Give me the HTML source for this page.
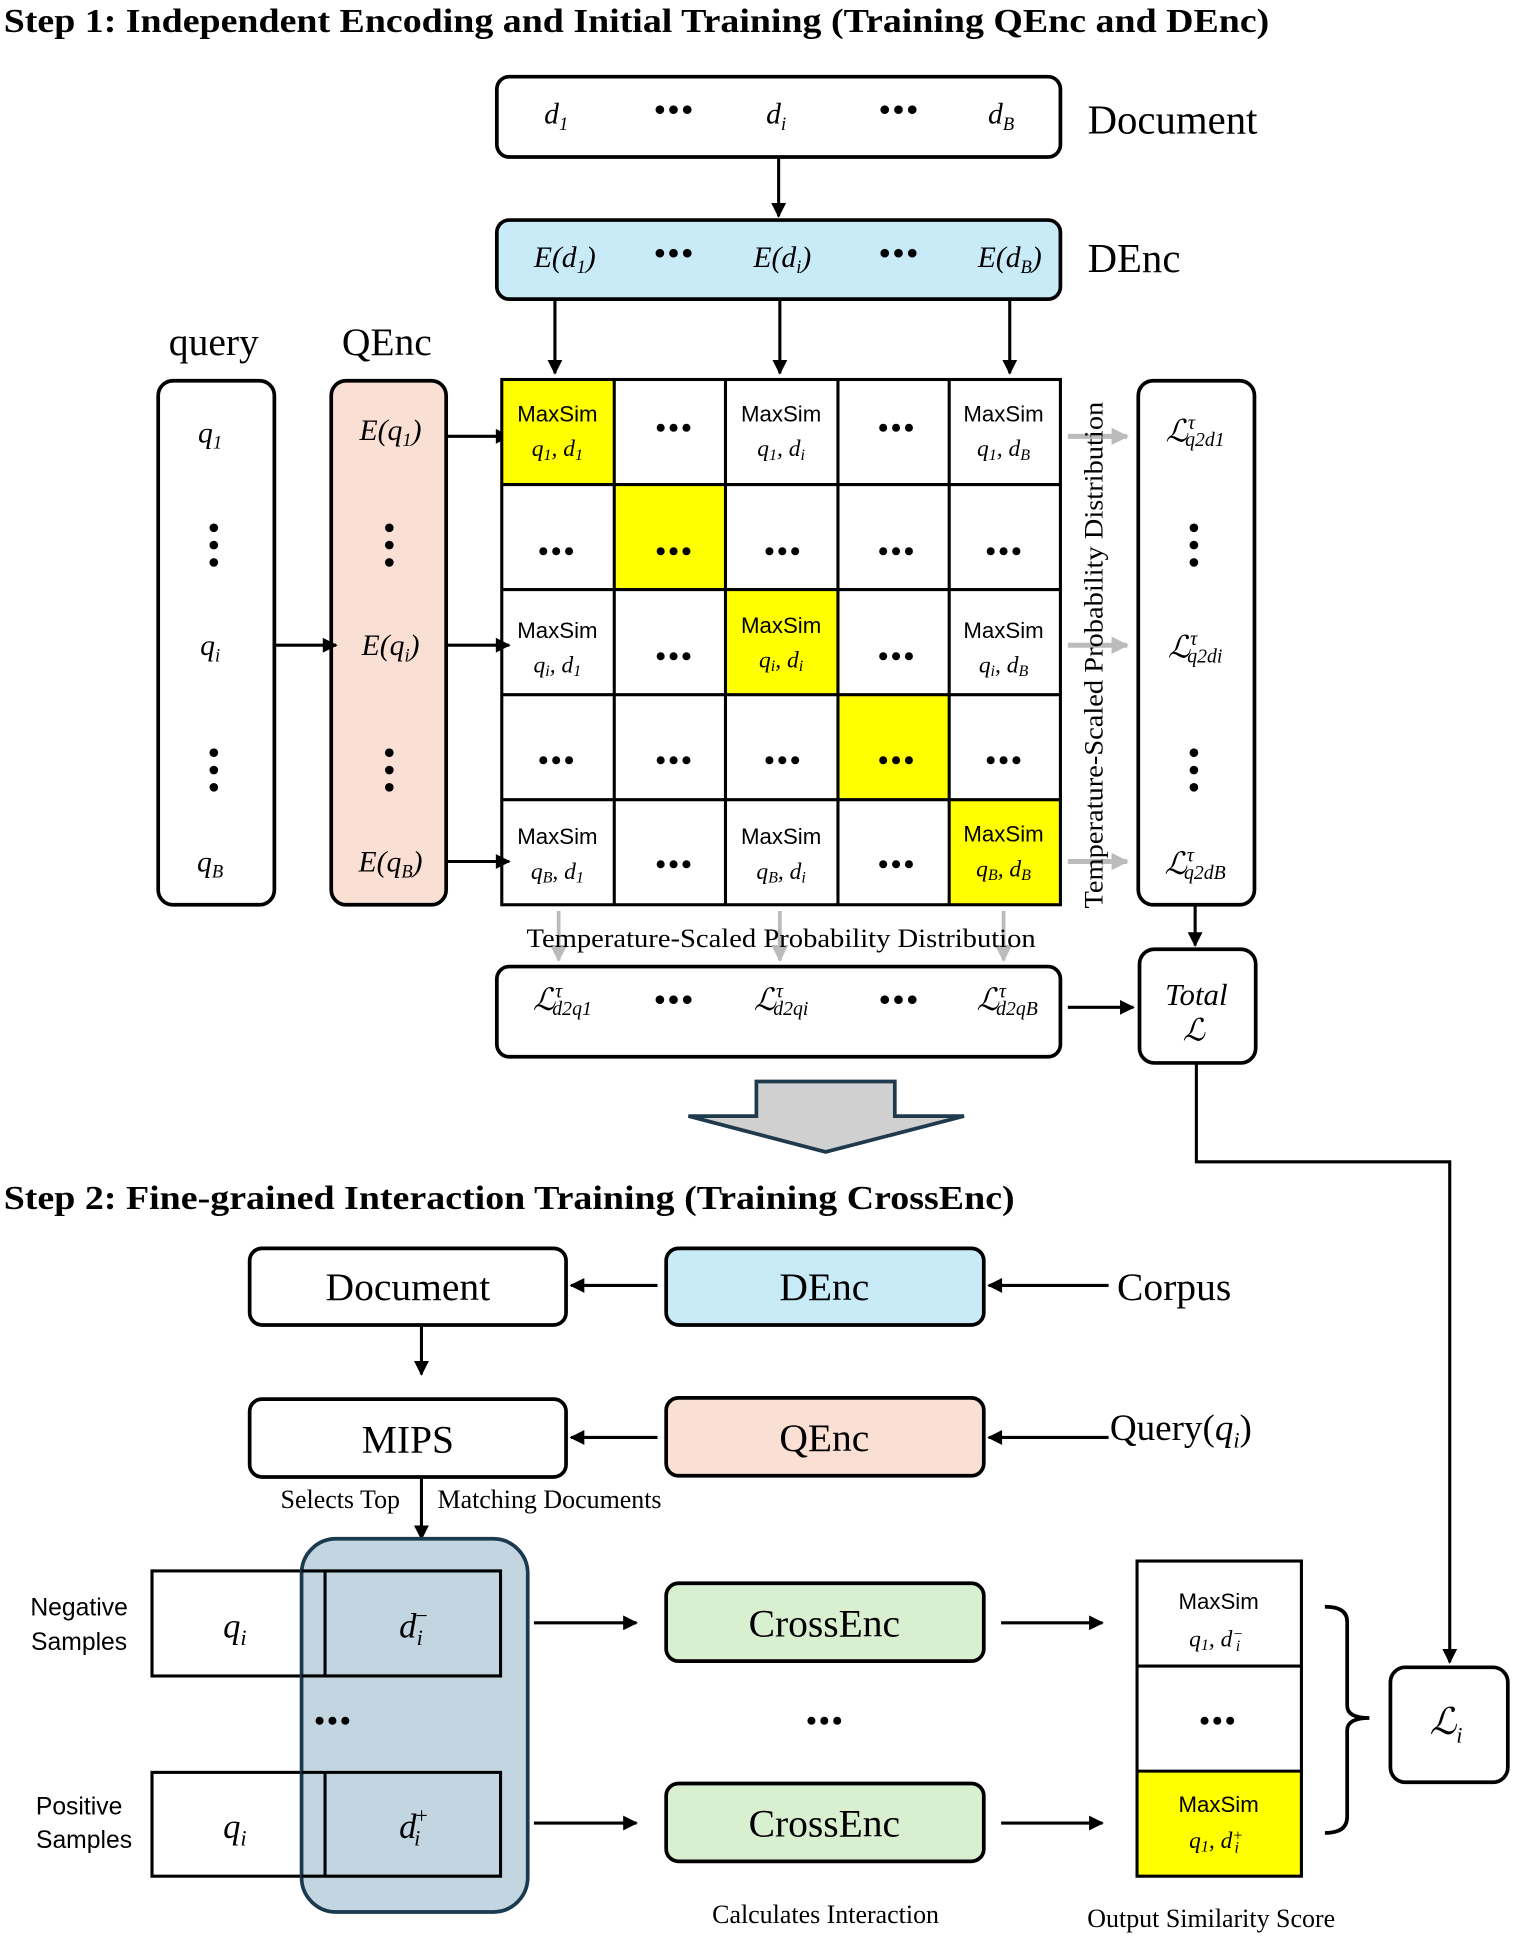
<!DOCTYPE html>
<html><head><meta charset="utf-8"><style>
html,body{margin:0;padding:0;background:#fff}
svg{display:block}
.s{font-family:"Liberation Serif",serif}
.a{font-family:"Liberation Sans",sans-serif}
.i{font-family:"Liberation Serif",serif;font-style:italic}
</style></head><body>
<svg width="1514" height="1943" viewBox="0 0 1225 1572" xmlns="http://www.w3.org/2000/svg">
<defs>
<marker id="bk" viewBox="0 0 10 10" refX="9" refY="5" markerWidth="14" markerHeight="12" orient="auto" markerUnits="userSpaceOnUse"><path d="M0,0 L10,5 L0,10 Z" fill="#000"/></marker>
<marker id="gr" viewBox="0 0 10 10" refX="9" refY="5" markerWidth="14" markerHeight="14" orient="auto" markerUnits="userSpaceOnUse"><path d="M0,0 L10,5 L0,10 Z" fill="#bbb"/></marker>
</defs>
<text x="3" y="26" class="s" font-weight="bold" font-size="27" textLength="1024" lengthAdjust="spacingAndGlyphs">Step 1: Independent Encoding and Initial Training (Training QEnc and DEnc)</text>

<rect x="402" y="62" width="456" height="65" rx="10" fill="#fff" stroke="#000" stroke-width="3"/>
<g class="i" font-size="24" text-anchor="middle">
<text x="450" y="100">d<tspan font-size="15" dy="5">1</tspan></text>
<text x="628" y="100">d<tspan font-size="15" dy="5">i</tspan></text>
<text x="810" y="100">d<tspan font-size="15" dy="5">B</tspan></text>
</g>
<g font-size="26" font-weight="bold" text-anchor="middle" class="s" letter-spacing="2"><text x="546" y="97">•••</text><text x="728" y="97">•••</text></g>
<text x="880" y="108" class="s" font-size="33">Document</text>
<line x1="630" y1="127" x2="630" y2="175" stroke="#000" stroke-width="2.5" marker-end="url(#bk)"/>

<rect x="402" y="178" width="456" height="64" rx="10" fill="#c9ebf8" stroke="#000" stroke-width="3"/>
<g class="i" font-size="24" text-anchor="middle">
<text x="457" y="216">E(d<tspan font-size="15" dy="5">1</tspan><tspan dy="-5">)</tspan></text>
<text x="633" y="216">E(d<tspan font-size="15" dy="5">i</tspan><tspan dy="-5">)</tspan></text>
<text x="817" y="216">E(d<tspan font-size="15" dy="5">B</tspan><tspan dy="-5">)</tspan></text>
</g>
<g font-size="26" font-weight="bold" text-anchor="middle" class="s" letter-spacing="2"><text x="546" y="213">•••</text><text x="728" y="213">•••</text></g>
<text x="880" y="220" class="s" font-size="33">DEnc</text>
<g stroke="#000" stroke-width="2.5"><line x1="449" y1="242" x2="449" y2="302" marker-end="url(#bk)"/><line x1="631" y1="242" x2="631" y2="302" marker-end="url(#bk)"/><line x1="817" y1="242" x2="817" y2="302" marker-end="url(#bk)"/></g>

<text x="173" y="287" class="s" font-size="32" text-anchor="middle">query</text>
<text x="313" y="287" class="s" font-size="32" text-anchor="middle">QEnc</text>

<rect x="128" y="308" width="94" height="424" rx="12" fill="#fff" stroke="#000" stroke-width="3"/>
<rect x="268" y="308" width="93" height="424" rx="12" fill="#fae0d4" stroke="#000" stroke-width="3"/>
<g class="i" font-size="24" text-anchor="middle">
<text x="170" y="358">q<tspan font-size="15" dy="5">1</tspan></text>
<text x="170" y="530">q<tspan font-size="15" dy="5">i</tspan></text>
<text x="170" y="705">q<tspan font-size="15" dy="5">B</tspan></text>
<text x="316" y="356">E(q<tspan font-size="15" dy="5">1</tspan><tspan dy="-5">)</tspan></text>
<text x="316" y="530">E(q<tspan font-size="15" dy="5">i</tspan><tspan dy="-5">)</tspan></text>
<text x="316" y="705">E(q<tspan font-size="15" dy="5">B</tspan><tspan dy="-5">)</tspan></text>
</g>
<g fill="#000">
<circle cx="173" cy="427" r="3.5"/><circle cx="173" cy="441" r="3.5"/><circle cx="173" cy="455" r="3.5"/>
<circle cx="173" cy="609" r="3.5"/><circle cx="173" cy="623" r="3.5"/><circle cx="173" cy="637" r="3.5"/>
<circle cx="315" cy="427" r="3.5"/><circle cx="315" cy="441" r="3.5"/><circle cx="315" cy="455" r="3.5"/>
<circle cx="315" cy="609" r="3.5"/><circle cx="315" cy="623" r="3.5"/><circle cx="315" cy="637" r="3.5"/>
<circle cx="966" cy="427" r="3.5"/><circle cx="966" cy="441" r="3.5"/><circle cx="966" cy="455" r="3.5"/>
<circle cx="966" cy="609" r="3.5"/><circle cx="966" cy="623" r="3.5"/><circle cx="966" cy="637" r="3.5"/>
</g>
<g stroke="#000" stroke-width="2.5"><line x1="222" y1="522" x2="272" y2="522" marker-end="url(#bk)"/>
<line x1="361" y1="353" x2="412" y2="353" marker-end="url(#bk)"/><line x1="361" y1="522" x2="412" y2="522" marker-end="url(#bk)"/><line x1="361" y1="697" x2="412" y2="697" marker-end="url(#bk)"/></g>

<g fill="#ffff00"><rect x="406" y="307" width="91" height="85"/><rect x="497" y="392" width="90" height="85"/><rect x="587" y="477" width="91" height="85"/><rect x="678" y="562" width="90" height="85"/><rect x="768" y="647" width="90" height="85"/></g>
<g stroke="#000" stroke-width="2.5" fill="none"><rect x="406" y="307" width="452" height="425"/>
<line x1="497" y1="307" x2="497" y2="732"/><line x1="587" y1="307" x2="587" y2="732"/><line x1="678" y1="307" x2="678" y2="732"/><line x1="768" y1="307" x2="768" y2="732"/>
<line x1="406" y1="392" x2="858" y2="392"/><line x1="406" y1="477" x2="858" y2="477"/><line x1="406" y1="562" x2="858" y2="562"/><line x1="406" y1="647" x2="858" y2="647"/></g>
<g class="a" font-size="18" text-anchor="middle">
<text x="451" y="341">MaxSim</text><text x="632" y="341">MaxSim</text><text x="812" y="341">MaxSim</text>
<text x="451" y="516">MaxSim</text><text x="632" y="512">MaxSim</text><text x="812" y="516">MaxSim</text>
<text x="451" y="683">MaxSim</text><text x="632" y="683">MaxSim</text><text x="812" y="681">MaxSim</text>
</g>
<g class="i" font-size="19" text-anchor="middle">
<text x="451" y="369">q<tspan font-size="13" dy="3">1</tspan><tspan dy="-3">, d</tspan><tspan font-size="13" dy="3">1</tspan></text>
<text x="632" y="369">q<tspan font-size="13" dy="3">1</tspan><tspan dy="-3">, d</tspan><tspan font-size="13" dy="3">i</tspan></text>
<text x="812" y="369">q<tspan font-size="13" dy="3">1</tspan><tspan dy="-3">, d</tspan><tspan font-size="13" dy="3">B</tspan></text>
<text x="451" y="544">q<tspan font-size="13" dy="3">i</tspan><tspan dy="-3">, d</tspan><tspan font-size="13" dy="3">1</tspan></text>
<text x="632" y="540">q<tspan font-size="13" dy="3">i</tspan><tspan dy="-3">, d</tspan><tspan font-size="13" dy="3">i</tspan></text>
<text x="812" y="544">q<tspan font-size="13" dy="3">i</tspan><tspan dy="-3">, d</tspan><tspan font-size="13" dy="3">B</tspan></text>
<text x="451" y="711">q<tspan font-size="13" dy="3">B</tspan><tspan dy="-3">, d</tspan><tspan font-size="13" dy="3">1</tspan></text>
<text x="632" y="711">q<tspan font-size="13" dy="3">B</tspan><tspan dy="-3">, d</tspan><tspan font-size="13" dy="3">i</tspan></text>
<text x="812" y="709">q<tspan font-size="13" dy="3">B</tspan><tspan dy="-3">, d</tspan><tspan font-size="13" dy="3">B</tspan></text>
</g>
<g font-size="24" font-weight="bold" text-anchor="middle" class="s" letter-spacing="2">
<text x="546" y="354">•••</text><text x="726" y="354">•••</text>
<text x="451" y="454">•••</text><text x="546" y="454">•••</text><text x="634" y="454">•••</text><text x="726" y="454">•••</text><text x="813" y="454">•••</text>
<text x="546" y="539">•••</text><text x="726" y="539">•••</text>
<text x="451" y="623">•••</text><text x="546" y="623">•••</text><text x="634" y="623">•••</text><text x="726" y="623">•••</text><text x="813" y="623">•••</text>
<text x="546" y="707">•••</text><text x="726" y="707">•••</text>
</g>

<g stroke="#bbb" stroke-width="4"><line x1="864" y1="353" x2="912" y2="353" marker-end="url(#gr)"/><line x1="864" y1="522" x2="912" y2="522" marker-end="url(#gr)"/><line x1="864" y1="697" x2="912" y2="697" marker-end="url(#gr)"/>
<line x1="452" y1="737" x2="452" y2="777" stroke-width="3" marker-end="url(#gr)"/><line x1="631" y1="737" x2="631" y2="777" stroke-width="3" marker-end="url(#gr)"/><line x1="812" y1="737" x2="812" y2="777" stroke-width="3" marker-end="url(#gr)"/></g>
<text transform="translate(892,530) rotate(-90)" class="s" font-size="21" text-anchor="middle" textLength="410" lengthAdjust="spacingAndGlyphs">Temperature-Scaled Probability Distribution</text>
<text x="632" y="766" class="s" font-size="21" text-anchor="middle" textLength="412" lengthAdjust="spacingAndGlyphs">Temperature-Scaled Probability Distribution</text>

<rect x="921" y="308" width="94" height="424" rx="12" fill="none" stroke="#000" stroke-width="3"/>
<g class="i" font-size="25" text-anchor="middle">
<text x="967" y="357">ℒ<tspan font-size="16" dy="-10">τ</tspan><tspan font-size="16" dx="-8" dy="14">q2d1</tspan></text>
<text x="967" y="532">ℒ<tspan font-size="16" dy="-10">τ</tspan><tspan font-size="16" dx="-8" dy="14">q2di</tspan></text>
<text x="967" y="707">ℒ<tspan font-size="16" dy="-10">τ</tspan><tspan font-size="16" dx="-8" dy="14">q2dB</tspan></text>
<text x="455" y="817">ℒ<tspan font-size="16" dy="-10">τ</tspan><tspan font-size="16" dx="-8" dy="14">d2q1</tspan></text>
<text x="632" y="817">ℒ<tspan font-size="16" dy="-10">τ</tspan><tspan font-size="16" dx="-8" dy="14">d2qi</tspan></text>
<text x="815" y="817">ℒ<tspan font-size="16" dy="-10">τ</tspan><tspan font-size="16" dx="-8" dy="14">d2qB</tspan></text>
<text x="968" y="813">Total</text><text x="966" y="842">ℒ</text>
</g>
<line x1="967" y1="732" x2="967" y2="765" stroke="#000" stroke-width="2.5" marker-end="url(#bk)"/>
<rect x="922" y="768" width="94" height="92" rx="12" fill="none" stroke="#000" stroke-width="3"/>
<rect x="402" y="782" width="456" height="73" rx="10" fill="none" stroke="#000" stroke-width="3"/>
<g font-size="26" font-weight="bold" text-anchor="middle" class="s" letter-spacing="2"><text x="546" y="817">•••</text><text x="728" y="817">•••</text></g>
<line x1="864" y1="815" x2="917" y2="815" stroke="#000" stroke-width="2.5" marker-end="url(#bk)"/>

<polygon points="612,875 724,875 724,903 780,903 668,932 557,903 612,903" fill="#d0d0d0" stroke="#1f3a4d" stroke-width="3"/>
<polyline points="968,860 968,940 1173,940 1173,1345" fill="none" stroke="#000" stroke-width="2.5" marker-end="url(#bk)"/>

<text x="3" y="978" class="s" font-weight="bold" font-size="27" textLength="818" lengthAdjust="spacingAndGlyphs">Step 2: Fine-grained Interaction Training (Training CrossEnc)</text>

<rect x="202" y="1010" width="256" height="62" rx="10" fill="#fff" stroke="#000" stroke-width="3"/>
<rect x="539" y="1010" width="257" height="62" rx="10" fill="#c9ebf8" stroke="#000" stroke-width="3"/>
<rect x="202" y="1132" width="256" height="63" rx="10" fill="#fff" stroke="#000" stroke-width="3"/>
<rect x="539" y="1131" width="257" height="63" rx="10" fill="#fae0d4" stroke="#000" stroke-width="3"/>
<g class="s" font-size="32" text-anchor="middle">
<text x="330" y="1052">Document</text><text x="667" y="1052">DEnc</text>
<text x="330" y="1175">MIPS</text><text x="667" y="1174">QEnc</text>
<text x="950" y="1052">Corpus</text>
</g>
<text x="898" y="1165" class="s" font-size="30">Query(<tspan class="i">q</tspan><tspan class="i" font-size="18" dy="6">i</tspan><tspan dy="-6">)</tspan></text>
<g stroke="#000" stroke-width="2.5">
<line x1="532" y1="1040" x2="462" y2="1040" marker-end="url(#bk)"/><line x1="897" y1="1040" x2="800" y2="1040" marker-end="url(#bk)"/>
<line x1="532" y1="1163" x2="462" y2="1163" marker-end="url(#bk)"/><line x1="897" y1="1163" x2="800" y2="1163" marker-end="url(#bk)"/>
<line x1="341" y1="1072" x2="341" y2="1112" marker-end="url(#bk)"/>
<line x1="341" y1="1195" x2="341" y2="1245" marker-end="url(#bk)"/>
</g>
<g class="s" font-size="21"><text x="227" y="1220">Selects Top</text><text x="354" y="1220">Matching Documents</text></g>

<rect x="123" y="1271" width="282" height="85" fill="#fff" stroke="#000" stroke-width="2.5"/>
<rect x="123" y="1434" width="282" height="84" fill="#fff" stroke="#000" stroke-width="2.5"/>
<rect x="244" y="1245" width="183" height="302" rx="28" fill="#bfd3de" fill-opacity="0.95" stroke="#1a3a50" stroke-width="3"/>
<g stroke="#000" stroke-width="2.5" fill="none">
<path d="M244,1271 H405 V1356 H244"/><path d="M244,1434 H405 V1518 H244"/>
<line x1="263" y1="1271" x2="263" y2="1356"/><line x1="263" y1="1434" x2="263" y2="1518"/>
</g>
<g class="i" font-size="28" text-anchor="middle">
<text x="190" y="1325">q<tspan font-size="18" dy="6">i</tspan></text>
<text x="190" y="1487">q<tspan font-size="18" dy="6">i</tspan></text>
<text x="335" y="1325">d<tspan font-size="18" dx="-2" dy="-12">−</tspan><tspan font-size="18" dx="-10" dy="18">i</tspan></text>
<text x="335" y="1487">d<tspan font-size="18" dx="-2" dy="-12">+</tspan><tspan font-size="18" dx="-12" dy="18">i</tspan></text>
</g>
<g class="a" font-size="20" text-anchor="middle">
<text x="64" y="1307">Negative</text><text x="64" y="1335">Samples</text>
<text x="64" y="1468">Positive</text><text x="68" y="1495">Samples</text>
</g>
<g font-size="24" font-weight="bold" text-anchor="middle" class="s" letter-spacing="2"><text x="270" y="1400">•••</text><text x="668" y="1400">•••</text><text x="986" y="1400">•••</text></g>

<rect x="539" y="1281" width="257" height="63" rx="10" fill="#d8f0d0" stroke="#000" stroke-width="3"/>
<rect x="539" y="1443" width="257" height="63" rx="10" fill="#d8f0d0" stroke="#000" stroke-width="3"/>
<g class="s" font-size="32" text-anchor="middle"><text x="667" y="1324">CrossEnc</text><text x="667" y="1486">CrossEnc</text></g>
<g stroke="#000" stroke-width="2.5">
<line x1="432" y1="1313" x2="515" y2="1313" marker-end="url(#bk)"/><line x1="432" y1="1475" x2="515" y2="1475" marker-end="url(#bk)"/>
<line x1="810" y1="1313" x2="892" y2="1313" marker-end="url(#bk)"/><line x1="810" y1="1475" x2="892" y2="1475" marker-end="url(#bk)"/>
</g>

<rect x="920" y="1433" width="133" height="85" fill="#ffff00"/>
<g stroke="#000" stroke-width="2.5" fill="none"><rect x="920" y="1263" width="133" height="255"/><line x1="920" y1="1348" x2="1053" y2="1348"/><line x1="920" y1="1433" x2="1053" y2="1433"/></g>
<g class="a" font-size="18" text-anchor="middle"><text x="986" y="1302">MaxSim</text><text x="986" y="1466">MaxSim</text></g>
<g class="i" font-size="19" text-anchor="middle">
<text x="984" y="1332">q<tspan font-size="13" dy="3">1</tspan><tspan dy="-3">, d</tspan><tspan font-size="13" dy="-6">−</tspan><tspan font-size="13" dx="-6" dy="10">i</tspan></text>
<text x="984" y="1495">q<tspan font-size="13" dy="3">1</tspan><tspan dy="-3">, d</tspan><tspan font-size="13" dy="-6">+</tspan><tspan font-size="13" dx="-7" dy="10">i</tspan></text>
</g>
<path d="M1072,1300 Q1090,1300 1090,1312 V1380 Q1090,1390 1108,1390 Q1090,1390 1090,1400 V1470 Q1090,1483 1072,1483" fill="none" stroke="#000" stroke-width="3"/>
<rect x="1125" y="1349" width="95" height="93" rx="12" fill="#fff" stroke="#000" stroke-width="3"/>
<text x="1170" y="1403" class="i" font-size="30" text-anchor="middle">ℒ<tspan font-size="18" dy="7">i</tspan></text>
<g class="s" font-size="21" text-anchor="middle"><text x="668" y="1556">Calculates Interaction</text><text x="980" y="1559">Output Similarity Score</text></g>
</svg>
</body></html>
